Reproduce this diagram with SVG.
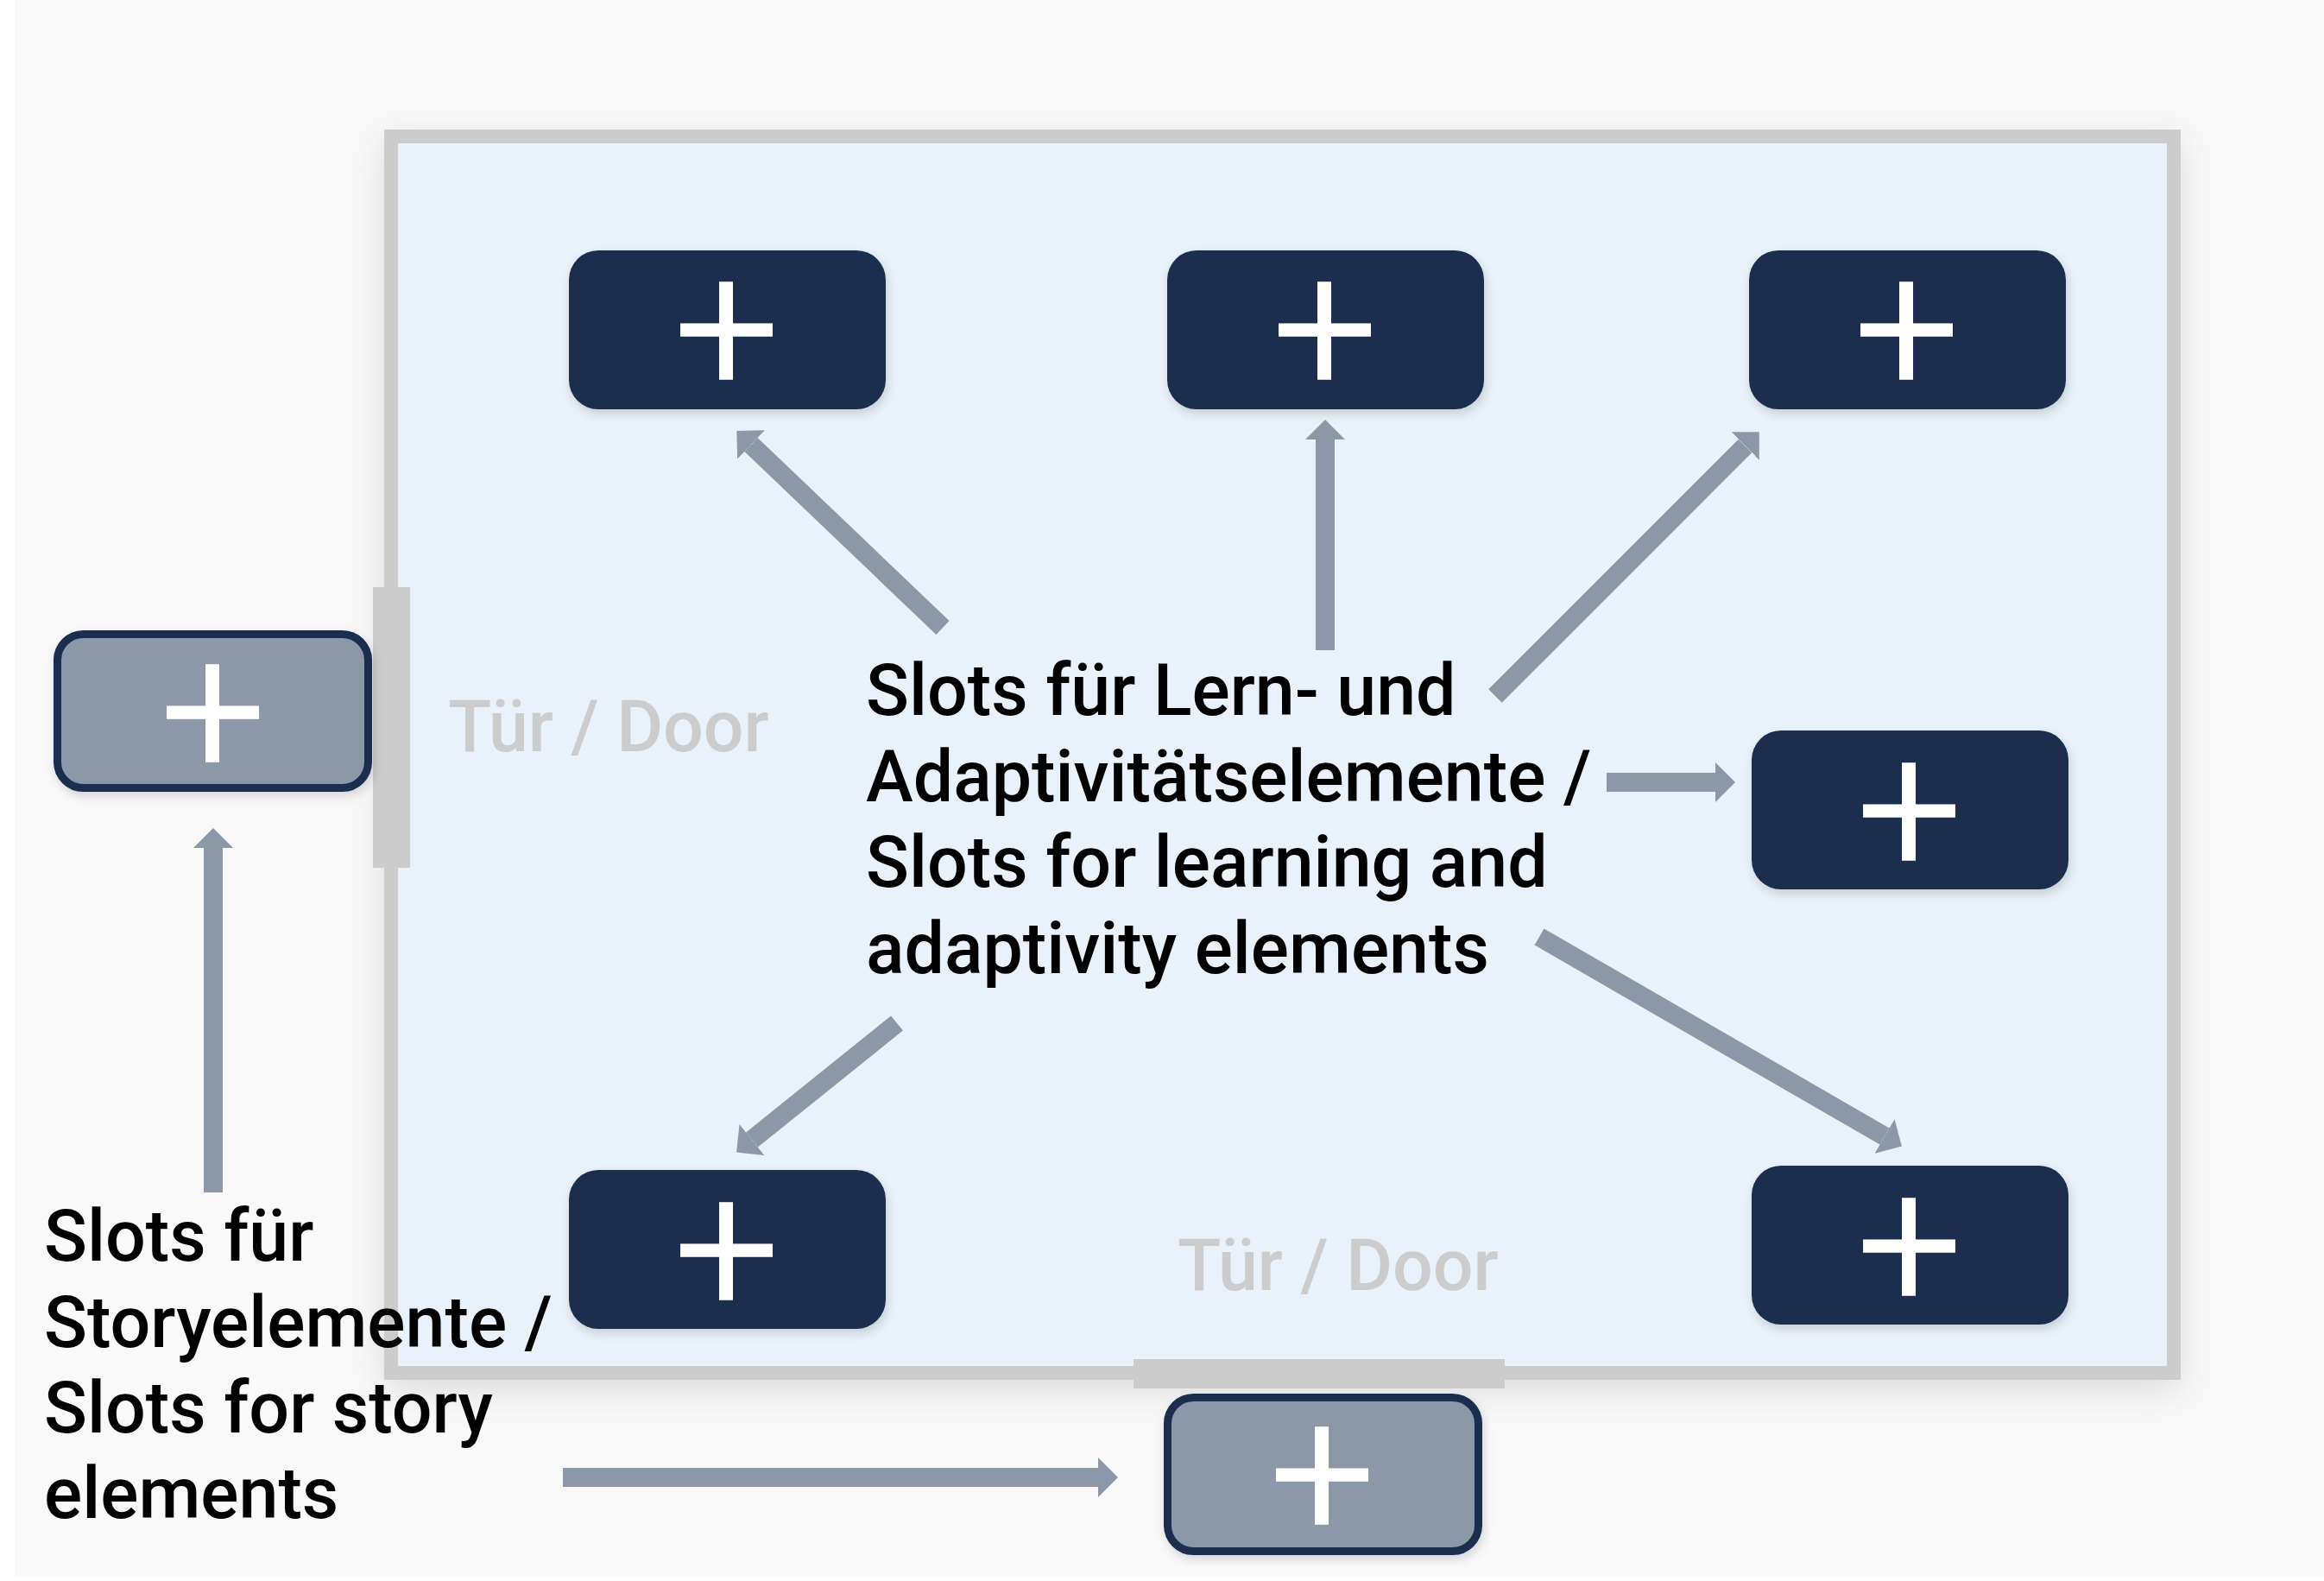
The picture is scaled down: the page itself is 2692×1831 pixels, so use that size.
<svg xmlns="http://www.w3.org/2000/svg" width="2692" height="1831" viewBox="0 0 2692 1831">
<defs>
<style>
.bg{fill:#f9f9f9}
.room{fill:#e9f1fa;stroke:#cccccc;stroke-width:16}
.door{fill:#cccccc}
.dark{fill:#1a2d4d}
.gray{fill:#8c97a7;stroke:#1a2d4d;stroke-width:9}
.plus{font-family:Roboto,"Liberation Sans",sans-serif;font-size:212px;font-weight:300;fill:#ffffff;stroke:#ffffff;stroke-width:3.6;text-anchor:middle}
.lbl{font-family:Roboto,"Liberation Sans",sans-serif;font-size:82.5px;font-weight:500;fill:#000000}
.doorlbl{font-family:Roboto,"Liberation Sans",sans-serif;font-size:82.5px;font-weight:500;fill:#cccccc}
.arr{stroke:#8c97a7;stroke-width:22;fill:none;marker-end:url(#ah)}
</style>
<marker id="ah" markerUnits="userSpaceOnUse" markerWidth="23" markerHeight="46" refX="0" refY="23" orient="auto">
<path d="M0,0 L23,23 L0,46 Z" fill="#8c97a7"/>
</marker>
<filter id="shRoom" x="-10%" y="-10%" width="120%" height="125%">
<feDropShadow dx="0" dy="12" stdDeviation="22" flood-color="#000" flood-opacity="0.12"/>
</filter>
<filter id="shNode" x="-20%" y="-20%" width="140%" height="150%">
<feDropShadow dx="2" dy="5" stdDeviation="6" flood-color="#000" flood-opacity="0.15"/>
</filter>
</defs>
<rect class="bg" x="17" y="0" width="2675" height="1826"/>
<g id="room">
<rect class="room" x="453" y="158" width="2065" height="1432" filter="url(#shRoom)"/>
<rect class="door" x="432" y="680" width="43" height="325"/>
<rect class="door" x="1313" y="1574" width="430" height="34"/>
<text class="doorlbl" x="519" y="870">Tür / Door</text>
<text class="doorlbl" x="1364" y="1494">Tür / Door</text>
</g>
<g id="label-learning">
<text class="lbl" x="1003" y="828">Slots für Lern- und</text>
<text class="lbl" x="1003" y="927.5">Adaptivitätselemente /</text>
<text class="lbl" x="1003" y="1027">Slots for learning and</text>
<text class="lbl" x="1003" y="1126.5">adaptivity elements</text>
</g>
<g id="label-story">
<text class="lbl" x="51" y="1460">Slots für</text>
<text class="lbl" x="51" y="1559.5">Storyelemente /</text>
<text class="lbl" x="51" y="1659">Slots for story</text>
<text class="lbl" x="51" y="1758">elements</text>
</g>
<g id="connectors">
<line class="arr" x1="1092" y1="727" x2="870" y2="515"/>
<line class="arr" x1="1535" y1="753" x2="1535" y2="509"/>
<line class="arr" x1="1732" y1="806" x2="2021.5" y2="516.5"/>
<line class="arr" x1="1861" y1="906" x2="1987" y2="906"/>
<line class="arr" x1="1783" y1="1085" x2="2183" y2="1316"/>
<line class="arr" x1="1039" y1="1185" x2="871" y2="1320"/>
<line class="arr" x1="247" y1="1381" x2="247" y2="982"/>
<line class="arr" x1="652" y1="1711" x2="1272" y2="1711"/>
</g>
<g id="slot-top-left" filter="url(#shNode)">
<rect class="dark" x="659" y="290" width="367" height="184" rx="34"/>
<text class="plus" x="842" y="453">+</text>
</g>
<g id="slot-top-middle" filter="url(#shNode)">
<rect class="dark" x="1352" y="290" width="367" height="184" rx="34"/>
<text class="plus" x="1535" y="453">+</text>
</g>
<g id="slot-top-right" filter="url(#shNode)">
<rect class="dark" x="2026" y="290" width="367" height="184" rx="34"/>
<text class="plus" x="2209" y="453">+</text>
</g>
<g id="slot-middle-right" filter="url(#shNode)">
<rect class="dark" x="2029" y="846" width="367" height="184" rx="34"/>
<text class="plus" x="2212" y="1010">+</text>
</g>
<g id="slot-bottom-right" filter="url(#shNode)">
<rect class="dark" x="2029" y="1350" width="367" height="184" rx="34"/>
<text class="plus" x="2212" y="1514">+</text>
</g>
<g id="slot-bottom-left" filter="url(#shNode)">
<rect class="dark" x="659" y="1355" width="367" height="184" rx="34"/>
<text class="plus" x="842" y="1519">+</text>
</g>
<g id="story-slot-left" filter="url(#shNode)">
<rect class="gray" x="66.5" y="734.5" width="360" height="178" rx="30"/>
<text class="plus" x="247" y="896">+</text>
</g>
<g id="story-slot-bottom" filter="url(#shNode)">
<rect class="gray" x="1352.5" y="1618.5" width="360" height="178" rx="30"/>
<text class="plus" x="1532" y="1779">+</text>
</g>
</svg>
